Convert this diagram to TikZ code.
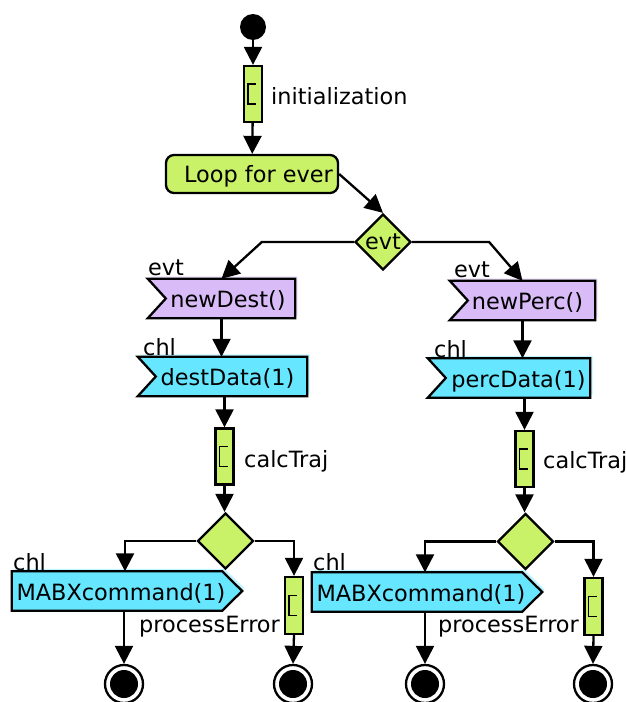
\documentclass[tikz,border=0pt]{standalone}
\usepackage{fontspec}
\setmainfont{DejaVu Sans}
\usetikzlibrary{arrows.meta,calc,shapes.geometric}
\pgfdeclarelayer{background}
\pgfsetlayers{background,main}

\definecolor{lime}{RGB}{202,242,104}
\definecolor{lilac}{RGB}{217,188,247}
\definecolor{lilacsh}{RGB}{238,226,252}
\definecolor{cyanb}{RGB}{102,230,255}
\definecolor{cyansh}{RGB}{194,245,255}

\tikzset{
 every node/.style={font=\fontsize{22.4}{26}\selectfont},
 lw/.style={line width=2.3pt},
 conn/.style={lw, -{Triangle[length=18pt,width=18pt]}},
 actbox/.style={draw, lw, fill=lime, minimum width=18pt, minimum height=56pt, inner sep=0},
 loopbox/.style={draw, lw, fill=lime, rounded corners=8pt, minimum width=172pt, minimum height=38pt, inner sep=0, text height=17pt, text depth=0pt},
 decis/.style={draw, lw, fill=lime, diamond, minimum width=56pt, minimum height=56pt, inner sep=0, aspect=1},
 sigbox/.style={minimum height=39pt, inner sep=0, text height=18pt, text depth=0pt},
 lbl/.style={inner sep=0, anchor=base west},
 startdot/.style={circle, fill=black, minimum size=26pt, inner sep=0},
 endring/.style={circle, draw, lw, fill=white, minimum size=38pt, inner sep=0,
   path picture={\fill[black] (path picture bounding box.center) circle (14pt);}},
 iconline/.style={line width=1.6pt},
}

\newcommand\acceptshape[3]{%
 \begin{pgfonlayer}{background}
 \fill[#3] ($(#1.north west)+(2.5,-2.5)$) -- ($(#1.north east)+(2.5,-2.5)$) -- ($(#1.south east)+(2.5,-2.5)$) -- ($(#1.south west)+(2.5,-2.5)$) -- ($(#1.west)+(20.5,-2.5)$) -- cycle;
 \draw[lw, fill=#2] (#1.north west) -- (#1.north east) -- (#1.south east) -- (#1.south west) -- ($(#1.west)+(18,0)$) -- cycle;
 \end{pgfonlayer}}
\newcommand\sendshape[3]{%
 \begin{pgfonlayer}{background}
 \fill[#3] ($(#1.north west)+(2.5,-2.5)$) -- ($(#1.north east)+(-17.5,-2.5)$) -- ($(#1.east)+(2.5,-2.5)$) -- ($(#1.south east)+(-17.5,-2.5)$) -- ($(#1.south west)+(2.5,-2.5)$) -- cycle;
 \draw[lw, fill=#2] (#1.north west) -- ($(#1.north east)+(-20,0)$) -- (#1.east) -- ($(#1.south east)+(-20,0)$) -- (#1.south west) -- cycle;
 \end{pgfonlayer}}
\newcommand\acticon[1]{%
 \draw[iconline] ($(#1.center)+(3,10)$) -- ++(-8,0) -- ++(0,-20) -- ++(8,0);}

\begin{document}
\begin{tikzpicture}[x=1pt,y=-1pt]
\useasboundingbox (0,0) rectangle (626,702);

% nodes
\node[startdot] (st) at (253,27) {};
\node[actbox] (init) at (253,94) {};
\acticon{init}
\node[lbl] (initl) at (271,104) {initialization};
\node[loopbox] (loop) at (252,174) {\hspace*{13pt}Loop for ever};
\node[decis] (ev) at (383,242) {evt};

\node[sigbox, minimum width=147pt] (nd) at (221.5,298.5) {\hspace*{13pt}newDest()};
\acceptshape{nd}{lilac}{lilacsh}
\node[lbl] (ndl) at (148,275) {evt};
\node[sigbox, minimum width=145pt] (np) at (522.5,300.5) {\hspace*{10pt}newPerc()};
\acceptshape{np}{lilac}{lilacsh}
\node[lbl] (npl) at (454,277) {evt};

\node[sigbox, minimum width=169pt] (dd) at (222.5,376.5) {\hspace*{10pt}destData(1)};
\acceptshape{dd}{cyanb}{cyansh}
\node[lbl] (ddl) at (143,355) {chl};
\node[sigbox, minimum width=162pt] (pd) at (509,378) {\hspace*{19pt}percData(1)};
\acceptshape{pd}{cyanb}{cyansh}
\node[lbl] (pdl) at (434,357) {chl};

\node[actbox] (ct1) at (224.5,456.5) {};
\acticon{ct1}
\node[lbl] (ct1l) at (244,467) {calcTraj};
\node[actbox] (ct2) at (524.5,459) {};
\acticon{ct2}
\node[lbl] (ct2l) at (543,468) {calcTraj};

\node[decis] (d1) at (225.5,541) {};
\node[decis] (d2) at (525.5,541.5) {};

\node[sigbox, minimum width=230pt] (m1) at (127,591) {MABXcommand(1)\hspace*{12pt}};
\sendshape{m1}{cyanb}{cyansh}
\node[lbl] (m1l) at (13,570) {chl};
\node[sigbox, minimum width=230pt] (m2) at (427,592) {MABXcommand(1)\hspace*{12pt}};
\sendshape{m2}{cyanb}{cyansh}
\node[lbl] (m2l) at (313,570) {chl};

\node[actbox, minimum height=57pt] (er1) at (294,605.5) {};
\acticon{er1}
\node[lbl] (er1l) at (139,632) {processError};
\node[actbox, minimum height=57pt] (er2) at (593.5,606.5) {};
\acticon{er2}
\node[lbl] (er2l) at (438,632) {processError};

\node[endring] (e1) at (124,684) {};
\node[endring] (e2) at (293,684) {};
\node[endring] (e3) at (425,684) {};
\node[endring] (e4) at (593,684) {};

% connectors
\draw[conn] (st) -- (init);
\draw[conn] (init) -- (loop);
\draw[conn] (loop.east) -- (ev.north);
\draw[conn] (ev.west) -- ++(-92,0) -- (nd.north);
\draw[conn] (ev.east) -- ++(77,0) -- (np.north);
\draw[conn] (nd.south) -- (nd.south |- dd.north);
\draw[conn] (np.south) -- (np.south |- pd.north);
\draw[conn] (ct1.north |- dd.south) -- (ct1.north);
\draw[conn] (ct2.north |- pd.south) -- (ct2.north);
\draw[conn] (ct1.south) -- (ct1.south |- d1.north);
\draw[conn] (ct2.south) -- (ct2.south |- d2.north);
\draw[conn] (d1.west) -| ($(m1.north)+(-2,0)$);
\draw[conn] (d1.east) -| (er1.north);
\draw[conn] (d2.west) -| ($(m2.north)+(-2,0)$);
\draw[conn] (d2.east) -| (er2.north);
\draw[conn] (e1.north |- m1.south) -- (e1.north);
\draw[conn] (er1.south) -- (e2.north);
\draw[conn] (e3.north |- m2.south) -- (e3.north);
\draw[conn] (er2.south) -- (e4.north);
\end{tikzpicture}
\end{document}
